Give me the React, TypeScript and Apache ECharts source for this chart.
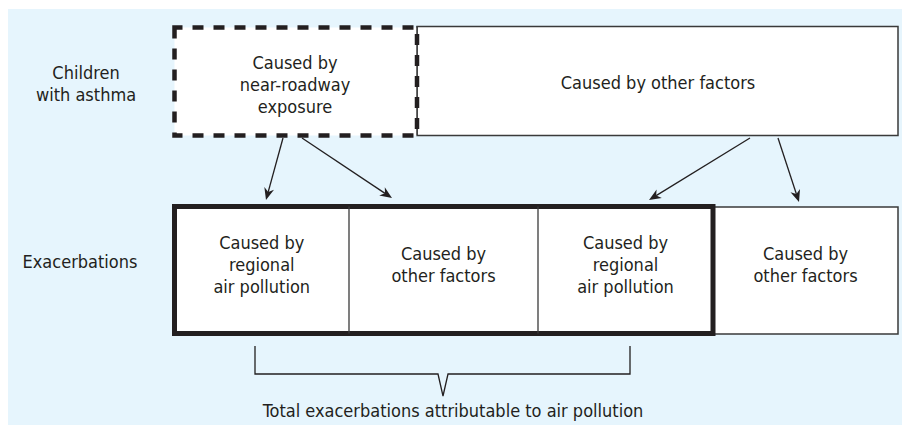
import React, { useEffect, useRef } from "react";
import * as echarts from "echarts";

// Texts of the diagram
const rowLabels = ["Children\nwith asthma", "Exacerbations"];
const topBoxLabels = ["Caused by\nnear-roadway\nexposure", "Caused by other factors"];
const bottomBoxLabels = [
  "Caused by\nregional\nair pollution",
  "Caused by\nother factors",
  "Caused by\nregional\nair pollution",
  "Caused by\nother factors",
];
const bracketLabel = "Total exacerbations attributable to air pollution";

const FONT = '"DejaVu Sans Condensed", "Liberation Sans Narrow", Arial, sans-serif';
const INK = "#231f20";
const BG = "#e6f5fd";

function arrow(x1: number, y1: number, x2: number, y2: number) {
  const dx = x2 - x1;
  const dy = y2 - y1;
  const len = Math.sqrt(dx * dx + dy * dy);
  const ux = dx / len;
  const uy = dy / len;
  const nx = -uy;
  const ny = ux;
  const L = 12;
  const W = 5;
  const bx = x2 - ux * L;
  const by = y2 - uy * L;
  const mx = x2 - ux * L * 0.7;
  const my = y2 - uy * L * 0.7;
  return [
    {
      type: "line",
      shape: { x1, y1, x2: mx, y2: my },
      style: { stroke: INK, lineWidth: 1.3 },
    },
    {
      type: "polygon",
      shape: {
        points: [
          [x2, y2],
          [bx + nx * W, by + ny * W],
          [mx, my],
          [bx - nx * W, by - ny * W],
        ],
      },
      style: { fill: INK, stroke: "none" },
    },
  ];
}

function label(text: string, x: number, y: number) {
  return {
    type: "text",
    x,
    y,
    style: {
      text,
      fill: INK,
      fontFamily: FONT,
      fontSize: 18,
      lineHeight: 22,
      align: "center",
      verticalAlign: "middle",
    },
  };
}

export default function App() {
  const ref = useRef<HTMLDivElement>(null);

  useEffect(() => {
    if (!ref.current) return;
    const chart = echarts.init(ref.current, undefined, { renderer: "svg" });

    // layout
    const topY0 = 27.5;
    const topY1 = 135.5;
    const dashX0 = 174.5;
    const dashX1 = 417;
    const rightX1 = 898;
    const botY0 = 206.5;
    const botY1 = 333.5;
    const cellX = [174.5, 349, 538, 713, 898];

    const elements: any[] = [];

    // background
    elements.push({
      type: "rect",
      shape: { x: 8, y: 9, width: 894, height: 416 },
      style: { fill: BG },
    });

    // top row boxes
    elements.push({
      type: "rect",
      shape: { x: dashX1, y: 26.5, width: rightX1 - dashX1, height: topY1 - 26.5 },
      style: { fill: "#ffffff", stroke: "#3a3a3a", lineWidth: 1.5 },
    });
    elements.push({
      type: "rect",
      shape: { x: dashX0, y: topY0, width: dashX1 - dashX0, height: topY1 - topY0 },
      style: { fill: "#ffffff", stroke: "none" },
    });
    elements.push({
      type: "line",
      shape: { x1: dashX1, y1: 26.5, x2: dashX1, y2: topY1 },
      style: { stroke: "#3a3a3a", lineWidth: 1.5 },
    });
    elements.push({
      type: "rect",
      shape: { x: dashX0, y: topY0, width: dashX1 - dashX0, height: topY1 - topY0 },
      style: { fill: "none", stroke: INK, lineWidth: 4.5, lineDash: [11, 10], lineDashOffset: 3 },
    });

    // bottom row
    elements.push({
      type: "rect",
      shape: { x: cellX[3], y: 207, width: cellX[4] - cellX[3], height: 334 - 207 },
      style: { fill: "#ffffff", stroke: "#3a3a3a", lineWidth: 1.5 },
    });
    elements.push({
      type: "rect",
      shape: { x: cellX[0], y: botY0, width: cellX[3] - cellX[0], height: botY1 - botY0 },
      style: { fill: "#ffffff", stroke: INK, lineWidth: 5 },
    });
    [cellX[1], cellX[2]].forEach((x) => {
      elements.push({
        type: "line",
        shape: { x1: x, y1: botY0, x2: x, y2: botY1 },
        style: { stroke: "#3a3a3a", lineWidth: 1.3 },
      });
    });

    // arrows
    elements.push(...arrow(283, 138, 266, 200));
    elements.push(...arrow(302, 138, 392, 198));
    elements.push(...arrow(750, 138, 649, 200));
    elements.push(...arrow(778, 138, 799, 202));

    // bracket
    elements.push({
      type: "polyline",
      shape: {
        points: [
          [255, 346],
          [255, 374],
          [438, 374],
          [443, 396],
          [448, 374],
          [630, 374],
          [630, 346],
        ],
      },
      style: { stroke: INK, lineWidth: 1.3, fill: "none" },
    });

    // texts
    elements.push(label(rowLabels[0], 86, 83));
    elements.push(label(rowLabels[1], 80, 261));
    elements.push(label(topBoxLabels[0], 295, 84));
    elements.push(label(topBoxLabels[1], 658, 82));
    bottomBoxLabels.forEach((t, i) => {
      const cx = (cellX[i] + cellX[i + 1]) / 2;
      elements.push(label(t, cx, 264.5));
    });
    elements.push(label(bracketLabel, 453, 410));

    chart.setOption({
      animation: false,
      graphic: { elements },
    });

    return () => chart.dispose();
  }, []);

  return (
    <div
      ref={ref}
      style={{ position: "fixed", left: 0, top: 0, width: 902, height: 425, background: "#ffffff" }}
    />
  );
}
